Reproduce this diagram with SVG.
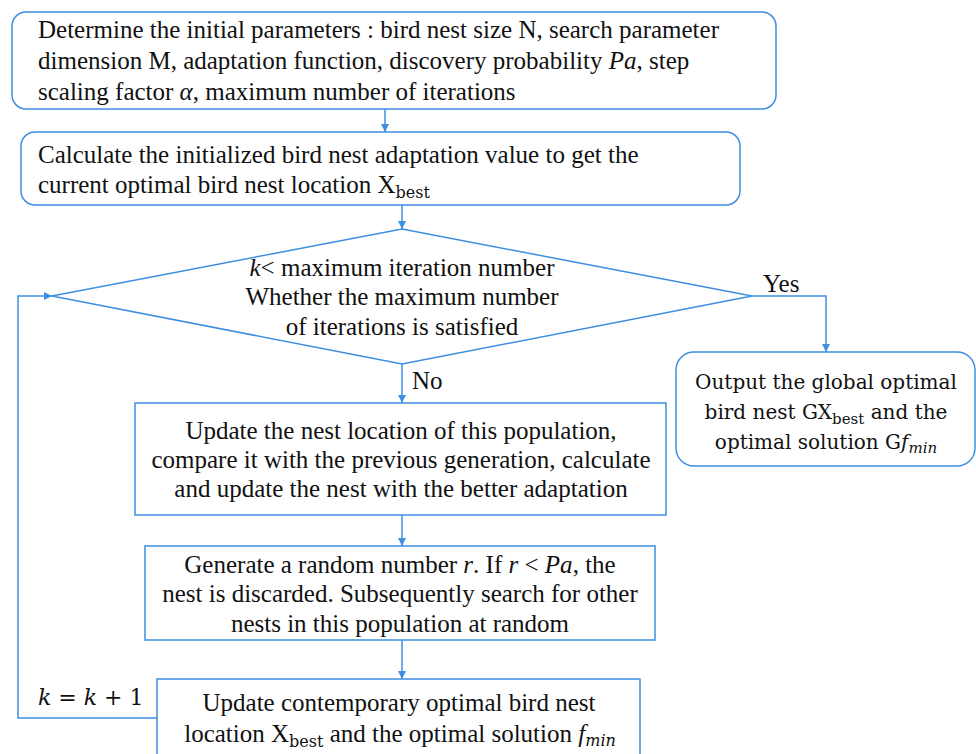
<svg xmlns="http://www.w3.org/2000/svg" width="976" height="754" viewBox="0 0 976 754">
  <defs>
    <style>
      .box { fill: #ffffff; stroke: #3f8fe0; stroke-width: 1.5; }
      .line { fill: none; stroke: #3f8fe0; stroke-width: 1.5; }
      text { font-family: "Liberation Serif", "Times New Roman", serif; font-size: 25px; fill: #111111; }
      .mid { text-anchor: middle; }
      .cam { font-family: "DejaVu Serif", "Liberation Serif", serif; font-size: 20px; }
      .it { font-style: italic; }
      .sub { font-family: "DejaVu Serif", "Liberation Serif", serif; font-size: 16px; }
      .csub { font-size: 15px; }
    </style>
    <marker id="arrow" viewBox="0 0 10 10" refX="10" refY="5" markerWidth="8" markerHeight="8" markerUnits="userSpaceOnUse" orient="auto">
      <path d="M0,0 L10,5 L0,10 z" fill="#3f8fe0"/>
    </marker>
  </defs>

  <rect width="976" height="754" fill="#ffffff"/>

  <!-- connectors -->
  <g id="connectors">
    <line class="line" x1="385" y1="109" x2="385" y2="132" marker-end="url(#arrow)"/>
    <line class="line" x1="402" y1="205" x2="402" y2="229" marker-end="url(#arrow)"/>
    <polyline class="line" points="752,296 826,296 826,352" marker-end="url(#arrow)"/>
    <line class="line" x1="402" y1="364" x2="402" y2="403" marker-end="url(#arrow)"/>
    <line class="line" x1="402" y1="515" x2="402" y2="546" marker-end="url(#arrow)"/>
    <line class="line" x1="402" y1="640" x2="402" y2="679" marker-end="url(#arrow)"/>
    <polyline class="line" points="157,718 18,718 18,296 52,296" marker-end="url(#arrow)"/>
    <text x="763" y="292">Yes</text>
    <text x="412" y="389">No</text>
    <text x="38" y="705" class="cam" style="font-size:22px"><tspan class="it">k</tspan> = <tspan class="it">k</tspan> + 1</text>
  </g>

  <!-- initial parameters -->
  <g id="init">
    <rect class="box" x="12" y="12" width="764" height="97" rx="14"/>
    <text x="38" y="38">Determine the initial parameters : bird nest size N, search parameter</text>
    <text x="38" y="69">dimension M, adaptation  function, discovery probability  <tspan class="it">Pa</tspan>, step</text>
    <text x="38" y="100">scaling factor <tspan class="it">α</tspan>, maximum number of iterations</text>
  </g>

  <!-- initial fitness -->
  <g id="calc">
    <rect class="box" x="21" y="132" width="719" height="73" rx="14"/>
    <text x="38" y="163">Calculate the initialized bird nest adaptation value to get the</text>
    <text x="38" y="193">current optimal bird nest location X<tspan class="sub" dy="5">best</tspan></text>
  </g>

  <!-- loop condition -->
  <g id="decision">
    <polygon class="box" points="402,229 752,296 402,364 52,296"/>
    <text x="402" y="276" class="mid"><tspan class="it">k</tspan>&lt; maximum iteration number</text>
    <text x="402" y="305" class="mid">Whether the maximum number</text>
    <text x="402" y="335" class="mid">of iterations is satisfied</text>
  </g>

  <!-- result -->
  <g id="output">
    <rect class="box" x="676" y="352" width="299" height="114" rx="18"/>
    <text x="826" y="389" class="mid cam">Output the global optimal</text>
    <text x="826" y="419" class="mid cam">bird nest GX<tspan class="csub" dy="5">best</tspan><tspan dy="-5"> and the</tspan></text>
    <text x="826" y="449" class="mid cam">optimal solution G<tspan class="it">f</tspan><tspan class="csub it" dy="4">min</tspan></text>
  </g>

  <!-- update step -->
  <g id="update">
    <rect class="box" x="135" y="403" width="531" height="112"/>
    <text x="401" y="439" class="mid">Update the nest location of this population,</text>
    <text x="401" y="468" class="mid">compare it with the previous generation, calculate</text>
    <text x="401" y="497" class="mid">and update the nest with the better adaptation</text>
  </g>

  <!-- discard step -->
  <g id="discard">
    <rect class="box" x="145" y="546" width="510" height="94"/>
    <text x="400" y="573" class="mid">Generate a random number <tspan class="it">r</tspan>. If <tspan class="it">r</tspan> &lt; <tspan class="it">Pa</tspan>, the</text>
    <text x="400" y="602" class="mid">nest is discarded. Subsequently search for other</text>
    <text x="400" y="632" class="mid">nests in this population at random</text>
  </g>

  <!-- best update -->
  <g id="best">
    <rect class="box" x="157" y="679" width="483" height="90"/>
    <text x="399" y="711" class="mid">Update contemporary optimal bird nest</text>
    <text x="400" y="742" class="mid">location X<tspan class="sub" dy="5">best</tspan><tspan dy="-5"> and the optimal solution </tspan><tspan class="it">f</tspan><tspan class="sub it" dy="4">min</tspan></text>
  </g>
</svg>
